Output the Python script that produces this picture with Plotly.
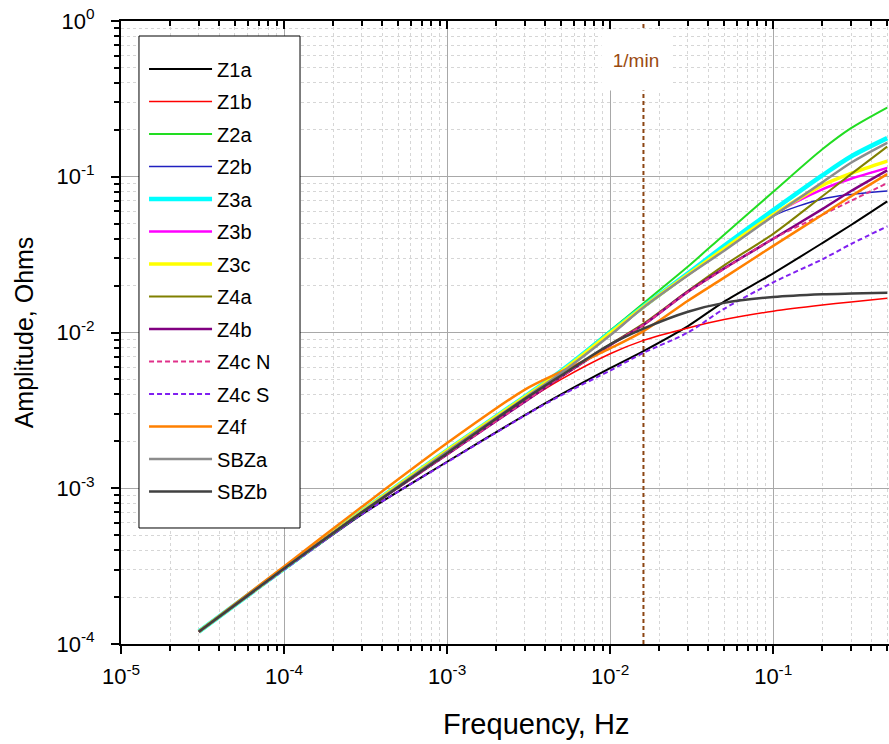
import plotly.graph_objects as go

# ---------------- data ----------------
freq = [3e-5, 1e-4, 3e-4, 1e-3, 3e-3, 5e-3, 1e-2, 1.6e-2, 3e-2, 5e-2, 1e-1, 2e-1, 3e-1, 5e-1]

z1a  = [1.2e-4, 3.0e-4, 6.8e-4, 1.48e-3, 2.95e-3, 4.0e-3, 5.9e-3, 7.6e-3, 1.1e-2, 1.58e-2, 2.4e-2, 3.75e-2, 4.9e-2, 6.95e-2]
z1b  = [1.2e-4, 3.05e-4, 7.0e-4, 1.65e-3, 3.6e-3, 5.0e-3, 7.3e-3, 8.9e-3, 1.07e-2, 1.21e-2, 1.37e-2, 1.5e-2, 1.57e-2, 1.66e-2]
z2a  = [1.2e-4, 3.05e-4, 7.1e-4, 1.75e-3, 3.9e-3, 5.7e-3, 1.03e-2, 1.54e-2, 2.65e-2, 4.25e-2, 8.0e-2, 1.5e-1, 2.05e-1, 2.78e-1]
z2b  = [1.2e-4, 3.05e-4, 7.1e-4, 1.74e-3, 3.85e-3, 5.6e-3, 9.7e-3, 1.45e-2, 2.35e-2, 3.4e-2, 5.6e-2, 7.2e-2, 7.7e-2, 8.1e-2]
z3a  = [1.2e-4, 3.05e-4, 7.1e-4, 1.75e-3, 3.88e-3, 5.65e-3, 1.0e-2, 1.47e-2, 2.4e-2, 3.6e-2, 6.1e-2, 1.02e-1, 1.35e-1, 1.77e-1]
z3b  = [1.2e-4, 3.05e-4, 7.05e-4, 1.73e-3, 3.8e-3, 5.55e-3, 9.7e-3, 1.45e-2, 2.35e-2, 3.4e-2, 5.7e-2, 8.3e-2, 9.7e-2, 1.14e-1]
z3c  = [1.2e-4, 3.05e-4, 7.1e-4, 1.75e-3, 3.86e-3, 5.6e-3, 9.9e-3, 1.46e-2, 2.36e-2, 3.45e-2, 5.7e-2, 8.8e-2, 1.05e-1, 1.26e-1]
z4a  = [1.2e-4, 3.05e-4, 7.0e-4, 1.66e-3, 3.62e-3, 5.2e-3, 8.4e-3, 1.14e-2, 1.85e-2, 2.7e-2, 4.3e-2, 7.5e-2, 1.04e-1, 1.56e-1]
z4b  = [1.2e-4, 3.05e-4, 7.0e-4, 1.65e-3, 3.6e-3, 5.2e-3, 8.3e-3, 1.12e-2, 1.83e-2, 2.58e-2, 4.0e-2, 6.2e-2, 8.1e-2, 1.1e-1]
z4cn = [1.2e-4, 3.05e-4, 7.0e-4, 1.65e-3, 3.6e-3, 5.2e-3, 8.3e-3, 1.12e-2, 1.82e-2, 2.56e-2, 4.0e-2, 5.7e-2, 7.0e-2, 9.1e-2]
z4cs = [1.2e-4, 3.0e-4, 6.8e-4, 1.47e-3, 2.93e-3, 3.95e-3, 5.7e-3, 7.4e-3, 1.0e-2, 1.42e-2, 2.1e-2, 2.95e-2, 3.7e-2, 4.8e-2]
z4f  = [1.2e-4, 3.15e-4, 7.6e-4, 1.95e-3, 4.3e-3, 5.6e-3, 7.9e-3, 1.02e-2, 1.6e-2, 2.25e-2, 3.6e-2, 5.7e-2, 7.5e-2, 1.04e-1]
sbza = [1.2e-4, 3.05e-4, 7.05e-4, 1.72e-3, 3.8e-3, 5.5e-3, 9.6e-3, 1.45e-2, 2.33e-2, 3.35e-2, 5.6e-2, 9.2e-2, 1.23e-1, 1.65e-1]
sbzb = [1.2e-4, 3.05e-4, 7.0e-4, 1.68e-3, 3.75e-3, 5.3e-3, 8.4e-3, 1.06e-2, 1.36e-2, 1.55e-2, 1.69e-2, 1.76e-2, 1.78e-2, 1.8e-2]

series_names = ["Z1a", "Z1b", "Z2a", "Z2b", "Z3a", "Z3b", "Z3c", "Z4a", "Z4b", "Z4c N", "Z4c S", "Z4f", "SBZa", "SBZb"]
series_vals = [z1a, z1b, z2a, z2b, z3a, z3b, z3c, z4a, z4b, z4cn, z4cs, z4f, sbza, sbzb]

x_tick_vals = [1e-5, 1e-4, 1e-3, 1e-2, 1e-1]
x_tick_text = ["10<sup>-5</sup>", "10<sup>-4</sup>", "10<sup>-3</sup>", "10<sup>-2</sup>", "10<sup>-1</sup>"]
y_tick_vals = [1e-4, 1e-3, 1e-2, 1e-1, 1e0]
y_tick_text = ["10<sup>-4</sup>", "10<sup>-3</sup>", "10<sup>-2</sup>", "10<sup>-1</sup>", "10<sup>0</sup>"]

marker_freq = [0.016, 0.016]
marker_amp = [1e-4, 1e0]
marker_label = "1/min"

# ---------------- styles ----------------
styles = [
    dict(color="#000000", width=2, dash="solid"),
    dict(color="#FF0000", width=1.5, dash="solid"),
    dict(color="#22DD22", width=2, dash="solid"),
    dict(color="#2020C0", width=1.5, dash="solid"),
    dict(color="#00FFFF", width=4.5, dash="solid"),
    dict(color="#FF00FF", width=2.5, dash="solid"),
    dict(color="#FFFF00", width=3.5, dash="solid"),
    dict(color="#808000", width=2, dash="solid"),
    dict(color="#800080", width=2.5, dash="solid"),
    dict(color="#E0308A", width=2, dash="5px,3px"),
    dict(color="#8020F0", width=2, dash="5px,3px"),
    dict(color="#FF8000", width=2.5, dash="solid"),
    dict(color="#8C8C8C", width=2.5, dash="solid"),
    dict(color="#404040", width=2.5, dash="solid"),
]

FONT = "Liberation Sans, Arial, sans-serif"

fig = go.Figure()

# vertical 1/min marker line
fig.add_trace(go.Scatter(
    x=marker_freq, y=marker_amp, mode="lines", showlegend=False, hoverinfo="skip",
    line=dict(color="#8B4513", width=2, dash="4px,3px"),
))

for i, (name, vals) in enumerate(zip(series_names, series_vals)):
    st = styles[i]
    fig.add_trace(go.Scatter(
        x=freq, y=vals, name=name, mode="lines",
        line=dict(color=st["color"], width=st["width"], dash=st["dash"], shape="spline", smoothing=0.8),
        legendgroup=name,
    ))

# dummy trace for the top axis
fig.add_trace(go.Scatter(x=[], y=[], xaxis="x2", showlegend=False, hoverinfo="skip"))

minor_x = [k * 10.0 ** e for e in range(-5, 0) for k in range(2, 10)]
minor_y = [k * 10.0 ** e for e in range(-4, 0) for k in range(2, 10)]

xr = [-5, -0.29]
yr = [-4, 0]

axis_common = dict(
    type="log", showline=True, linecolor="black", linewidth=2, automargin=False,
    ticks="outside", ticklen=8, tickwidth=2, tickcolor="black",
    showgrid=True, gridcolor="#A8A8A8", gridwidth=1.3,
    zeroline=False, tickfont=dict(family=FONT, size=22, color="black"),
)

minor_grid = dict(ticks="outside", ticklen=5, tickwidth=2, tickcolor="black",
                  showgrid=True, gridcolor="#D6D6D6", griddash="3px,3px", gridwidth=1)

fig.update_layout(
    width=889, height=744,
    margin=dict(l=121, r=0, t=21, b=100),
    plot_bgcolor="white", paper_bgcolor="white",
    showlegend=True,
    xaxis=dict(
        **axis_common, range=xr, tickmode="array", tickvals=x_tick_vals, ticktext=x_tick_text,
        ticklabelstandoff=4,
        minor=dict(tickmode="array", tickvals=minor_x, **minor_grid),
    ),
    xaxis2=dict(
        type="log", range=xr, overlaying="x", side="top", anchor="y", automargin=False,
        showline=True, linecolor="black", linewidth=2, showgrid=False, zeroline=False,
        showticklabels=False, ticks="inside", ticklen=8, tickwidth=2, tickcolor="black",
        tickmode="array", tickvals=x_tick_vals,
        minor=dict(tickmode="array", tickvals=minor_x, ticks="inside", ticklen=5, tickwidth=2,
                   tickcolor="black", showgrid=False),
    ),
    yaxis=dict(
        **axis_common, range=yr, tickmode="array", tickvals=y_tick_vals, ticktext=y_tick_text,
        ticklabelstandoff=12,
        title=dict(text="Amplitude, Ohms", font=dict(family=FONT, size=25, color="black"), standoff=16),
        minor=dict(tickmode="array", tickvals=minor_y, **minor_grid),
    ),
    legend=dict(
        x=0.030, y=0.9542, xanchor="left", yanchor="top",
        bgcolor="rgba(0,0,0,0)", borderwidth=0,
        font=dict(family=FONT, size=20, color="black"),
        traceorder="grouped", tracegroupgap=3.5, itemwidth=63,
    ),
)

# legend frame
fig.add_shape(type="rect", xref="paper", yref="paper", x0=0.0234, x1=0.2331, y0=0.1862, y1=0.9759,
              line=dict(color="black", width=1), fillcolor="white", layer="above")

fig.add_annotation(
    x=-1.842, y=0.9374, xref="x", yref="paper", text=marker_label, showarrow=False,
    xanchor="center", yanchor="middle",
    font=dict(family=FONT, size=19, color="#9A4A10"), bgcolor="white",
    width=62, height=54, borderpad=3,
)

fig.add_annotation(
    x=0.540, y=-0.128, xref="paper", yref="paper", text="Frequency, Hz", showarrow=False,
    font=dict(family=FONT, size=29, color="black"), xanchor="center", yanchor="middle",
)

fig.write_html("out.html", config={"responsive": False, "displayModeBar": False},
               post_script="document.body.style.margin='0';document.body.style.overflow='hidden';")
